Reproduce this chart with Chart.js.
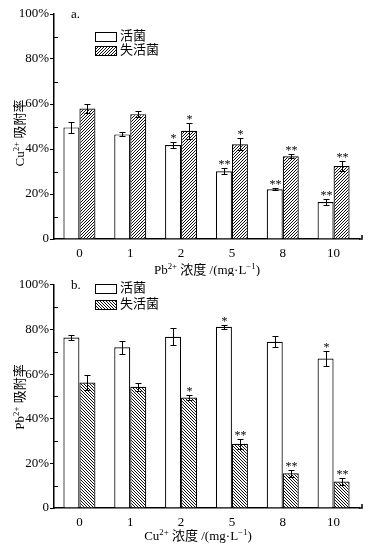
<!DOCTYPE html>
<html>
<head>
<meta charset="utf-8">
<script src="https://cdn.jsdelivr.net/npm/chart.js@4.4.0/dist/chart.umd.min.js"></script>
<style>
html, body { margin: 0; padding: 0; background: #fff; }
#wrap { position: relative; width: 371px; height: 553px; }
canvas { position: absolute; left: 0; }
</style>
</head>
<body>
<div id="wrap">
  <canvas id="cuChart" width="371" height="276" style="top:0"></canvas>
  <canvas id="pbChart" width="371" height="277" style="top:276px"></canvas>
</div>
<script>
// categories (metal concentration, mg/L)
const concLabels = ['0', '1', '2', '5', '8', '10'];
const seriesNames = ['活菌', '失活菌'];
const yTicks = [0, 20, 40, 60, 80, 100];

// a. Cu2+ adsorption rate (%) at different Pb2+ concentrations
const cuLive = [49.6, 46.5, 41.8, 30.1, 22.1, 16.4];
const cuLiveErr = [2.4, 0.9, 1.3, 1.3, 0.4, 1.5];
const cuLiveSig = ['', '', '*', '**', '**', '**'];
const cuDead = [58.0, 55.5, 48.1, 42.1, 36.8, 32.4];
const cuDeadErr = [2.1, 1.5, 3.5, 2.7, 1.0, 2.2];
const cuDeadSig = ['', '', '*', '*', '**', '**'];

// b. Pb2+ adsorption rate (%) at different Cu2+ concentrations
const pbLive = [76.4, 72.0, 76.7, 81.2, 74.5, 67.0];
const pbLiveErr = [1.1, 2.8, 3.8, 0.8, 2.4, 3.3];
const pbLiveSig = ['', '', '', '*', '', '*'];
const pbDead = [56.2, 54.3, 49.5, 28.8, 15.6, 11.9];
const pbDeadErr = [3.4, 1.8, 1.0, 2.3, 1.6, 1.7];
const pbDeadSig = ['', '', '*', '**', '**', '**'];

const FONT = '"Liberation Serif", "Times New Roman", "Noto Sans CJK SC", serif';

function hatch(dir) {
    const n = 3;
    const c = document.createElement('canvas');
    c.width = n; c.height = n;
    const g = c.getContext('2d');
    g.fillStyle = '#fff';
    g.fillRect(0, 0, n, n);
    g.fillStyle = '#111';
    for (let x = 0; x < n; x++) {
        for (let y = 0; y < n; y++) {
            const k = dir === '/' ? (x + y) % n : ((x - y) % n + n) % n;
            if (k === 0) g.fillRect(x, y, 1, 1);
        }
    }
    return g.createPattern(c, 'repeat');
}

// draws text with superscript pieces, e.g. [['Pb'], ['2+', true], ...]
function richText(ctx, parts, x, y, size) {
    ctx.textBaseline = 'middle';
    ctx.textAlign = 'left';
    let w = 0;
    parts.forEach(p => {
        ctx.font = (p[1] ? size * 0.68 : size) + 'px ' + FONT;
        w += ctx.measureText(p[0]).width;
    });
    let cx = x - w / 2;
    parts.forEach(p => {
        ctx.font = (p[1] ? size * 0.68 : size) + 'px ' + FONT;
        ctx.fillText(p[0], cx, p[1] ? y - size * 0.35 : y);
        cx += ctx.measureText(p[0]).width;
    });
}

function extrasPlugin(cfg) {
    return {
        id: 'extras',
        afterDatasetsDraw(chart) {
            const { ctx, chartArea, scales } = chart;
            const y = scales.y;
            ctx.save();
            ctx.strokeStyle = '#000';
            ctx.fillStyle = '#000';
            ctx.lineWidth = 1;

            // error bars and significance marks
            chart.data.datasets.forEach((ds, i) => {
                const meta = chart.getDatasetMeta(i);
                meta.data.forEach((bar, j) => {
                    const v = ds.data[j], e = cfg.errs[i][j];
                    const top = Math.round(y.getPixelForValue(v + e)) + 0.5;
                    const bot = Math.round(y.getPixelForValue(v - e)) + 0.5;
                    const x = Math.round(bar.x) + 0.5;
                    ctx.beginPath();
                    ctx.moveTo(x, top); ctx.lineTo(x, bot);
                    ctx.moveTo(x - 3, top); ctx.lineTo(x + 3, top);
                    ctx.moveTo(x - 3, bot); ctx.lineTo(x + 3, bot);
                    ctx.stroke();
                    const s = cfg.sigs[i][j];
                    if (s) {
                        ctx.font = '12px ' + FONT;
                        ctx.textAlign = 'center';
                        ctx.textBaseline = 'alphabetic';
                        ctx.fillText(s, x, top - 0.5);
                    }
                });
            });

            // inward minor ticks on the y axis
            ctx.beginPath();
            [10, 30, 50, 70, 90].forEach(v => {
                const py = Math.round(y.getPixelForValue(v)) + 0.5;
                ctx.moveTo(chartArea.left, py);
                ctx.lineTo(chartArea.left + 4, py);
            });
            ctx.stroke();
            // small tick at the end of the x axis
            ctx.lineWidth = 1.5;
            ctx.beginPath();
            const xr = Math.round(chartArea.right + 3);
            ctx.moveTo(chartArea.right, chartArea.bottom);
            ctx.lineTo(xr, chartArea.bottom);
            ctx.lineTo(xr, chartArea.bottom - 4);
            ctx.stroke();
            ctx.lineWidth = 1;

            // legend
            chart.data.datasets.forEach((ds, i) => {
                const ly = cfg.legendY[i];
                ctx.fillStyle = ds.backgroundColor;
                ctx.fillRect(95, ly - 4.5, 22, 9);
                ctx.strokeStyle = '#000';
                ctx.strokeRect(95.5, ly - 4.5, 21, 9);
                ctx.fillStyle = '#000';
                ctx.font = '13px ' + FONT;
                ctx.textAlign = 'left';
                ctx.textBaseline = 'middle';
                ctx.fillText(ds.label, 120, ly);
            });

            // panel letter
            ctx.font = '13px ' + FONT;
            ctx.textAlign = 'left';
            ctx.textBaseline = 'middle';
            ctx.fillText(cfg.panel, 71, chartArea.top + 1);

            // axis titles
            richText(ctx, cfg.xTitle, cfg.xTitleX, cfg.xTitleY, 13);
            ctx.save();
            ctx.translate(21, cfg.yTitleY);
            ctx.rotate(-Math.PI / 2);
            richText(ctx, cfg.yTitle, 0, 0, 13);
            ctx.restore();

            ctx.restore();
        }
    };
}

function makeChart(id, cfg) {
    const ctx = document.getElementById(id).getContext('2d');
    new Chart(ctx, {
        type: 'bar',
        plugins: [extrasPlugin(cfg)],
        data: {
            labels: concLabels,
            datasets: [{
                label: seriesNames[0],
                data: cfg.live,
                backgroundColor: '#fff',
                borderColor: '#000',
                borderWidth: 1.2
            }, {
                label: seriesNames[1],
                data: cfg.dead,
                backgroundColor: hatch(cfg.hatchDir),
                borderColor: '#000',
                borderWidth: 1.2
            }]
        },
        options: {
            responsive: false,
            animation: false,
            events: [],
            layout: { padding: { left: 0, right: 12, top: cfg.top, bottom: 0 } },
            datasets: { bar: { categoryPercentage: 0.63, barPercentage: 1 } },
            plugins: { legend: { display: false }, tooltip: { enabled: false } },
            scales: {
                x: {
                    grid: { display: false, drawTicks: false },
                    border: { color: '#000', width: 1.5 },
                    ticks: { color: '#000', padding: 7, font: { family: FONT, size: 13 } },
                    afterFit: s => { s.height = cfg.xHeight; }
                },
                y: {
                    min: 0,
                    max: 100,
                    afterBuildTicks: s => { s.ticks = yTicks.map(v => ({ value: v })); },
                    grid: {
                        drawOnChartArea: false,
                        drawTicks: true,
                        tickLength: 4,
                        color: '#000'
                    },
                    border: { color: '#000', width: 1.5 },
                    ticks: {
                        color: '#000',
                        padding: 1,
                        autoSkip: false,
                        font: { family: FONT, size: 13 },
                        callback: v => v === 0 ? '0' : v + '%'
                    },
                    afterFit: s => { s.width = 54; }
                }
            }
        }
    });
}

makeChart('cuChart', {
    live: cuLive, dead: cuDead,
    errs: [cuLiveErr, cuDeadErr], sigs: [cuLiveSig, cuDeadSig],
    hatchDir: '/', panel: 'a.',
    top: 14, xHeight: 37,
    legendY: [37, 51],
    xTitle: [['Pb'], ['2+', true], [' 浓度 /(mg·L'], ['−1', true], [')']],
    xTitleX: 207, xTitleY: 271,
    yTitle: [['Cu'], ['2+', true], [' 吸附率']],
    yTitleY: 133
});

makeChart('pbChart', {
    live: pbLive, dead: pbDead,
    errs: [pbLiveErr, pbDeadErr], sigs: [pbLiveSig, pbDeadSig],
    hatchDir: '\\', panel: 'b.',
    top: 8, xHeight: 45,
    legendY: [13, 29],
    xTitle: [['Cu'], ['2+', true], [' 浓度 /(mg·L'], ['−1', true], [')']],
    xTitleX: 198, xTitleY: 261,
    yTitle: [['Pb'], ['2+', true], [' 吸附率']],
    yTitleY: 121
});
</script>
</body>
</html>
